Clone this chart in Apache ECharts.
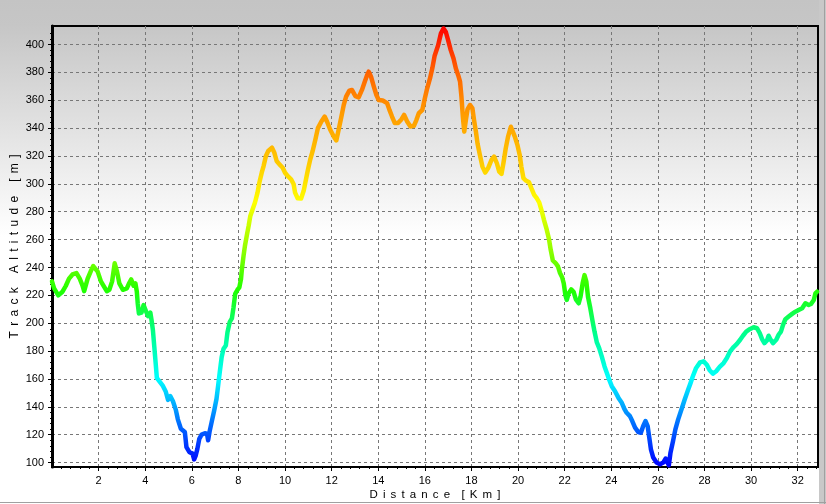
<!DOCTYPE html>
<html>
<head>
<meta charset="utf-8">
<script src="https://cdn.jsdelivr.net/npm/echarts@6/dist/echarts.min.js"></script>
<style>
html,body{margin:0;padding:0;background:#fff;}
#chart{width:826px;height:504px;}
</style>
</head>
<body>
<div id="chart"></div>
<script>
// ---- data (distance in km, altitude in m) ----
var distanceKm = [
0.00,0.09,0.27,0.45,0.59,0.73,0.88,1.05,1.19,1.31,1.38,1.53,1.67,1.77,1.96,2.10,2.24,2.35,2.46,2.58,
2.69,2.79,2.89,3.04,3.21,3.32,3.40,3.50,3.58,3.64,3.68,3.73,3.84,3.93,4.01,4.12,4.22,4.27,4.33,4.39,
4.45,4.50,4.62,4.76,4.88,4.98,5.08,5.19,5.31,5.40,5.53,5.70,5.77,5.89,6.03,6.10,6.17,6.24,6.32,6.42,
6.56,6.65,6.70,6.76,6.85,6.96,7.06,7.13,7.20,7.28,7.36,7.46,7.53,7.63,7.72,7.79,7.86,7.96,8.04,8.11,
8.15,8.22,8.28,8.37,8.44,8.51,8.61,8.71,8.82,8.90,9.00,9.08,9.18,9.28,9.44,9.54,9.64,9.76,9.90,10.00,
10.11,10.26,10.37,10.43,10.54,10.69,10.80,10.90,10.98,11.08,11.18,11.30,11.41,11.56,11.70,11.80,11.94,12.09,12.20,12.30,
12.42,12.52,12.62,12.76,12.87,13.02,13.16,13.30,13.42,13.52,13.59,13.69,13.81,13.92,14.02,14.19,14.38,14.48,14.59,14.71,
14.85,15.00,15.11,15.24,15.38,15.53,15.64,15.74,15.89,16.00,16.10,16.22,16.32,16.42,16.57,16.69,16.80,16.90,17.00,17.11,
17.23,17.33,17.43,17.51,17.57,17.63,17.69,17.76,17.83,17.94,18.04,18.11,18.19,18.26,18.36,18.47,18.59,18.71,18.86,18.97,
19.09,19.19,19.29,19.37,19.47,19.57,19.69,19.77,19.86,19.97,20.07,20.14,20.23,20.33,20.47,20.57,20.69,20.80,20.91,21.00,
21.11,21.23,21.33,21.40,21.49,21.61,21.71,21.80,21.89,21.96,22.03,22.09,22.17,22.28,22.38,22.48,22.60,22.68,22.77,22.85,
22.93,23.00,23.10,23.20,23.28,23.38,23.48,23.59,23.71,23.81,23.91,24.02,24.16,24.31,24.45,24.56,24.66,24.80,24.90,25.02,
25.16,25.27,25.37,25.47,25.56,25.63,25.70,25.80,25.94,26.09,26.23,26.33,26.41,26.47,26.54,26.65,26.75,26.87,27.01,27.15,
27.30,27.40,27.50,27.64,27.81,27.96,28.10,28.22,28.36,28.50,28.65,28.82,28.96,29.10,29.25,29.39,29.53,29.65,29.79,29.94,
30.11,30.25,30.37,30.47,30.57,30.68,30.75,30.82,30.94,31.08,31.18,31.28,31.37,31.47,31.61,31.76,31.90,32.04,32.19,32.33,
32.47,32.57,32.69,32.76,32.83
];
var altitudeM = [
230,225,220,222.6,226.7,232,235,236,232,227,223,232,237.6,241,237,230,226,223,224,230,
243,237,228.6,224,225,229,231.4,227,228.6,222.6,214,207,207.6,213,212,205,207.6,202.4,195,183,
171,160.7,158,155,151,145,147.6,144,138,131,124.3,122,111,107.6,106.4,102.3,105.2,110,117,120,
121,120.7,116,122,129,137.4,145.8,155.3,165,175.6,181.6,184,193.5,201,203.5,211.4,221,224,225.7,231.7,
238.9,248.4,255.6,264,270,277,281.8,286.6,293.7,301,308,312.8,320,323.6,326,322.4,316.4,314,311.6,308,
305.7,303.3,299.7,293.7,289.7,289.5,295,303.3,310,317.4,323.3,331.7,340,344.8,348.3,344.8,338.8,334,331.2,338.8,
348.3,356.7,362.6,366.9,367.4,363,362.1,367.4,373.3,378,380.5,376.9,369.8,363.8,360.2,359.8,357.9,353.1,348.3,343.6,
343.6,346.4,349.5,344.8,341.2,341.7,346,350.7,353,361.4,368.6,375.7,382.9,392,399.5,408,411.5,409,403,396,
390,382.8,378,373.3,362.5,348.2,337.5,345.8,353.5,356.6,354.2,345.8,337.5,329,320.8,312.4,308.1,311.2,317.2,319.6,
314.8,308.8,307.2,314.8,325.5,333.9,341,339.9,333.9,328,320.8,312.4,304.1,302.4,301.2,296.9,292.1,289.7,286.6,281.4,
274.2,267.1,260,252.7,245.1,243.2,240.8,236,233,228.6,220.2,216.7,221.4,224.3,222.6,217.1,214.3,219,228.6,234.5,
229.8,219,210.7,201.2,194,186.2,182.1,176.2,169,164.3,159.5,154.8,151.2,146.4,142.9,138.6,135.7,133.3,129.8,125,
121.9,121.4,126.2,129.8,126.2,117.9,109.5,103.6,100,98.8,100,102.9,101.9,98.1,107.1,115.5,123.8,131,138.1,145.2,
152.4,157,161.9,167.9,171.9,172.6,170.2,166.2,163.8,165.5,168.6,171.4,175,179.8,182.9,185.2,188.1,191,194,195.7,
197.1,196.4,192.9,188.6,185.7,187.6,191,188.6,185.7,188.1,191.7,194,198.8,202.9,204.8,206.7,208.3,209.5,210.7,214.3,
213.1,213.8,216.7,221.4,222.6
];
var xTickValues = [2,4,6,8,10,12,14,16,18,20,22,24,26,28,30,32];
var yTickValues = [100,120,140,160,180,200,220,240,260,280,300,320,340,360,380,400];
var xRange = [0, 32.87];
var yRange = [96.8, 413.3];
var colorRange = [97, 413];
var xTitleWords = ['Distance', '[Km]'];
var yTitleWords = ['Track', 'Altitude', '[m]'];

function spaced(words, wordGap) {
  var gap = ' \u2006';
  return words.map(function (w) { return w.split('').join(gap); }).join(wordGap);
}

var xMinor = [], yMinor = [];
for (var i = 0; i < xTickValues.length + 1; i++) {
  for (var k = 1; k < 5; k++) { var v = i * 2 + k * 0.4; if (v < xRange[1]) xMinor.push(+v.toFixed(2)); }
}
for (var j = 100; j <= 410; j += 4) { if (j % 20 !== 0) yMinor.push(j); }

var points = distanceKm.map(function (d, i) { return [d, altitudeM[i]]; });

var FONT = '"Liberation Sans", Arial, sans-serif';
var chart = echarts.init(document.getElementById('chart'), null, {renderer: 'canvas'});
var gridLine = {show: true, lineStyle: {color: '#777777', type: [3, 3], width: 1}};

chart.setOption({
  animation: false,
  backgroundColor: {
    type: 'linear', x: 0, y: 0, x2: 0, y2: 1,
    colorStops: [
      {offset: 0, color: '#c4c4c4'},
      {offset: 0.05, color: '#c6c6c6'},
      {offset: 0.47, color: '#ffffff'},
      {offset: 1, color: '#ffffff'}
    ]
  },
  graphic: [
    {type: 'rect', shape: {x: 819, y: 0, width: 7, height: 504}, style: {fill: '#c8c8c8'}, silent: true},
    {type: 'line', shape: {x1: 824.5, y1: 0, x2: 824.5, y2: 504}, style: {stroke: '#a0a0a0', lineWidth: 1}, silent: true},
    {type: 'line', shape: {x1: 0, y1: 502.5, x2: 826, y2: 502.5}, style: {stroke: '#a0a0a0', lineWidth: 1}, silent: true}
  ],
  grid: {left: 52, top: 26, width: 766, height: 441, show: true, borderColor: '#000', borderWidth: 2,
         backgroundColor: 'transparent', containLabel: false, outerBoundsMode: 'none'},
  visualMap: {
    type: 'continuous', show: false, dimension: 1, seriesIndex: 0,
    min: colorRange[0], max: colorRange[1],
    inRange: {color: ['#0000ff', '#0070ff', '#00ffff', '#00ff90', '#20ff00', '#98ff00', '#ffff00', '#ffc400', '#ff9c00', '#ff6000', '#ff0000']}
  },
  xAxis: [{
    type: 'value', min: xRange[0], max: xRange[1], position: 'bottom',
    name: spaced(xTitleWords, ' \u2006  '), nameLocation: 'middle', nameGap: 22, nameMoveOverlap: false,
    nameTextStyle: {fontFamily: FONT, fontSize: 11.5, color: '#000'},
    axisLine: {show: true, onZero: false, lineStyle: {color: '#000', width: 2}},
    axisTick: {show: true, customValues: xTickValues, length: 4, lineStyle: {color: '#000'}},
    axisLabel: {customValues: xTickValues, fontFamily: FONT, fontSize: 11, color: '#000', margin: 8},
    splitLine: gridLine
  }, {
    type: 'value', min: xRange[0], max: xRange[1], position: 'bottom', gridIndex: 0,
    axisLine: {show: false},
    axisTick: {show: true, customValues: xMinor, length: 2, lineStyle: {color: '#000'}},
    axisLabel: {show: false}, splitLine: {show: false}
  }],
  yAxis: [{
    type: 'value', min: yRange[0], max: yRange[1], position: 'left',
    name: spaced(yTitleWords, ' \u2006 \u2006 '), nameLocation: 'middle', nameGap: 31, nameRotate: 90, nameMoveOverlap: false,
    nameTextStyle: {fontFamily: FONT, fontSize: 12, color: '#000'},
    axisLine: {show: true, onZero: false, lineStyle: {color: '#000', width: 3}},
    axisTick: {show: true, customValues: yTickValues, length: 4, lineStyle: {color: '#000'}},
    axisLabel: {customValues: yTickValues, fontFamily: FONT, fontSize: 11, color: '#000', margin: 8},
    splitLine: gridLine
  }, {
    type: 'value', min: yRange[0], max: yRange[1], position: 'left', gridIndex: 0,
    axisLine: {show: false},
    axisTick: {show: true, customValues: yMinor, length: 2, lineStyle: {color: '#000'}},
    axisLabel: {show: false}, splitLine: {show: false}
  }],
  series: [{
    type: 'line', xAxisIndex: 0, yAxisIndex: 0,
    data: points, showSymbol: false, symbol: 'none', smooth: false,
    lineStyle: {width: 4.5, cap: 'round', join: 'round'},
    clip: true, z: 3
  }]
});
</script>
</body>
</html>
